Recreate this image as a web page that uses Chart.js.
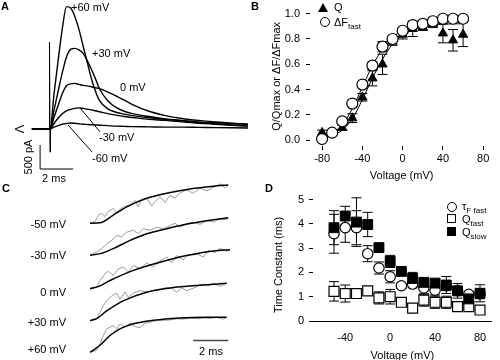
<!DOCTYPE html>
<html>
<head>
<meta charset="utf-8">
<title>Gating charge and fluorescence</title>
<script src="https://cdn.jsdelivr.net/npm/chart.js@4"></script>
<style>
  body { margin:0; width:500px; height:360px; position:relative; overflow:hidden; background:#fff;
         font-family:"Liberation Sans", Arial, sans-serif; font-size:11px; color:#000; }
  canvas { position:absolute; }
  .t { position:absolute; white-space:nowrap; line-height:11px; transform:translateY(-50%); }
  .t.r { transform:translate(-100%,-50%); }
  .t.c { transform:translate(-50%,-50%); }
  .p { font-weight:bold; }
  sub { font-size:8px; vertical-align:-3px; line-height:0; }
  .sym { position:absolute; box-sizing:border-box; }
</style>
</head>
<body>
<canvas id="chartA" width="250" height="180" style="left:0;top:0"></canvas>
<canvas id="chartB" width="250" height="185" style="left:250px;top:0"></canvas>
<canvas id="chartC" width="250" height="180" style="left:0;top:180px"></canvas>
<canvas id="chartD" width="250" height="184" style="left:250px;top:180px"></canvas>

<!-- panel A labels -->
<div class="t p" style="left:1px;top:6px">A</div>
<div class="t" style="left:71px;top:7px">+60 mV</div>
<div class="t" style="left:92px;top:53px">+30 mV</div>
<div class="t" style="left:120px;top:87px">0 mV</div>
<div class="t" style="left:99px;top:137px">-30 mV</div>
<div class="t" style="left:92px;top:158px">-60 mV</div>
<div class="t c" style="left:28px;top:157px;transform:translate(-50%,-50%) rotate(-90deg)">500 pA</div>
<div class="t c" style="left:54px;top:178px">2 ms</div>
<div class="t c" style="left:19px;top:129px;font-size:13px;transform:translate(-50%,-50%) rotate(90deg)">V</div>

<!-- panel B labels -->
<div class="t p" style="left:251px;top:6px">B</div>
<div class="sym" style="left:318px;top:3px;width:0;height:0;border-left:5px solid transparent;border-right:5px solid transparent;border-bottom:9px solid #000"></div>
<div class="t" style="left:334px;top:7px">Q</div>
<div class="sym" style="left:320px;top:17px;width:10px;height:10px;border:1.2px solid #000;border-radius:50%"></div>
<div class="t" style="left:334px;top:22px">&Delta;F<sub>fast</sub></div>

<!-- panel C labels -->
<div class="t p" style="left:2px;top:188px">C</div>
<div class="t r" style="left:66px;top:224px">-50 mV</div>
<div class="t r" style="left:66px;top:255px">-30 mV</div>
<div class="t r" style="left:66px;top:292px">0 mV</div>
<div class="t r" style="left:66px;top:322px">+30 mV</div>
<div class="t r" style="left:66px;top:349px">+60 mV</div>
<div class="t c" style="left:211px;top:351px">2 ms</div>

<!-- panel D labels -->
<div class="t p" style="left:265px;top:188px">D</div>
<div class="t c" style="left:278px;top:265px;transform:translate(-50%,-50%) rotate(-90deg)">Time Constant (ms)</div>
<div class="sym" style="left:447px;top:202px;width:10px;height:10px;border:1.2px solid #000;border-radius:50%"></div>
<div class="t" style="left:462px;top:206px">&tau;<sub>F fast</sub></div>
<div class="sym" style="left:447px;top:214px;width:9px;height:9px;border:1.2px solid #000"></div>
<div class="t" style="left:462px;top:219px">Q<sub>fast</sub></div>
<div class="sym" style="left:447px;top:227px;width:9px;height:9px;background:#000"></div>
<div class="t" style="left:462px;top:232px">Q<sub>slow</sub></div>

<script>
// ---- Panel A: charge movement currents (time in ms, current in pA)
const timeA = [-1.1, -0.6, -0.2, 0, 0.25, 0.5, 0.75, 1, 1.25, 1.5, 1.75, 2, 2.25, 2.5, 2.75, 3, 3.5, 4, 4.5, 5, 6, 7, 8, 9, 10, 11, 12];
const iP60 = [0, 0, 0, 0, 750, 1450, 2100, 2550, 2520, 2350, 2080, 1740, 1400, 1060, 790, 590, 420, 350, 310, 280, 235, 200, 170, 130, 110, 85, 60];
const iP30 = [0, 0, 0, 0, 400, 800, 1180, 1500, 1660, 1680, 1650, 1580, 1430, 1250, 1050, 840, 590, 450, 370, 320, 260, 210, 180, 150, 130, 115, 100];
const i0 = [0, 0, 0, 0, 250, 500, 740, 900, 940, 950, 930, 910, 900, 880, 860, 840, 770, 690, 600, 510, 370, 280, 220, 180, 150, 120, 95];
const iM30 = [0, 0, 0, 0, 120, 230, 320, 380, 410, 430, 440, 430, 415, 400, 380, 360, 320, 290, 260, 240, 200, 180, 150, 120, 100, 80, 60];
const iM60 = [0, 0, 0, 0, 40, 70, 100, 115, 125, 120, 110, 100, 95, 90, 85, 80, 70, 60, 55, 50, 45, 40, 40, 35, 30, 25, 20];
const artifactT = [-0.06, -0.03, 0, 0.03];
const artifactI = [0, 1810, -480, 0];

// ---- Panel B: normalized charge and fluorescence vs voltage
const voltsB = [-80, -70, -60, -50, -40, -30, -20, -10, 0, 10, 20, 30, 40, 50, 60];
const dFfast = [0.01, 0.06, 0.15, 0.29, 0.44, 0.59, 0.74, 0.80, 0.865, 0.91, 0.92, 0.94, 0.96, 0.96, 0.96];
const dFfastErr = [0.01, 0.01, 0.02, 0.02, 0.02, 0.03, 0.04, 0.02, 0.02, 0.02, 0.02, 0.03, 0.02, 0.02, 0.02];
const voltsQ = [-80, -60, -50, -40, -30, -20, -10, 0, 10, 20, 30, 40, 50, 60];
const qNorm = [0.06, 0.10, 0.175, 0.34, 0.49, 0.60, 0.78, 0.835, 0.88, 0.89, 0.92, 0.845, 0.79, 0.835];
const qNormErr = [0.02, 0.02, 0.035, 0.03, 0.06, 0.08, 0.03, 0.035, 0.06, 0.02, 0.03, 0.075, 0.085, 0.095];
const fitDF = [0.02, 0.05, 0.12, 0.25, 0.42, 0.59, 0.72, 0.81, 0.87, 0.90, 0.92, 0.93, 0.935, 0.94, 0.94];
const fitQ = [0.02, 0.04, 0.08, 0.17, 0.32, 0.49, 0.64, 0.76, 0.83, 0.87, 0.895, 0.91, 0.915, 0.92, 0.92];

// ---- Panel C: fluorescence traces [ms, normalized] with fits
const grayM50 = [[0,0.02],[0.29,0.06],[0.48,0.23],[0.67,0.27],[0.86,0.19],[1.05,0.32],[1.33,0.40],[1.52,0.30],[1.9,0.44],[2.29,0.49],[2.57,0.60],[2.76,0.44],[2.95,0.63],[3.24,0.66],[3.52,0.46],[3.71,0.57],[4.0,0.70],[4.29,0.55],[4.57,0.74],[4.86,0.66],[5.14,0.80],[5.52,0.87],[5.9,0.79],[6.29,0.92],[6.67,0.85],[7.05,0.94],[7.43,1.03],[7.71,0.92],[7.9,1.0]];
const fitM50 = [[0,0.02],[0.57,0.03],[1.33,0.23],[2.1,0.44],[3.24,0.66],[4.38,0.79],[5.71,0.90],[7.05,0.97],[7.9,1.0]];
const grayM30 = [[0,0.03],[0.38,0.11],[0.67,0.20],[0.95,0.32],[1.24,0.41],[1.52,0.54],[1.81,0.50],[2.1,0.62],[2.48,0.67],[2.76,0.58],[3.05,0.71],[3.43,0.67],[3.81,0.75],[4.19,0.71],[4.57,0.79],[4.86,0.85],[5.14,0.75],[5.52,0.84],[5.9,0.88],[6.29,0.82],[6.67,0.92],[7.05,0.88],[7.43,0.97],[7.81,0.94],[7.9,0.99]];
const fitM30 = [[0,0.03],[0.6,0.07],[1.33,0.20],[2.29,0.41],[3.24,0.58],[4.38,0.71],[5.71,0.84],[7.05,0.94],[7.9,0.99]];
const gray0 = [[0,0],[0.38,0.04],[0.57,0.21],[0.86,0.38],[1.05,0.45],[1.33,0.34],[1.62,0.51],[1.9,0.56],[2.19,0.43],[2.48,0.60],[2.86,0.51],[3.24,0.66],[3.62,0.56],[4.0,0.71],[4.38,0.81],[4.67,0.66],[4.95,0.85],[5.33,0.74],[5.62,0.87],[6.1,0.90],[6.48,0.81],[6.76,0.98],[7.14,0.93],[7.43,1.03],[7.81,0.97],[8.0,0.98]];
const fit0 = [[0,0],[0.5,0.06],[1.14,0.21],[2.48,0.47],[4.0,0.68],[5.52,0.85],[7.05,0.97],[8.0,1.0]];
const grayP30 = [[0,0.01],[0.38,0.05],[0.57,0.22],[0.76,0.39],[0.95,0.52],[1.24,0.65],[1.52,0.72],[1.71,0.56],[2.0,0.75],[2.19,0.61],[2.48,0.72],[2.86,0.78],[3.24,0.75],[3.62,0.80],[4.0,0.82],[4.38,0.86],[4.67,0.84],[4.95,0.74],[5.24,0.85],[5.52,0.78],[5.9,0.84],[6.19,0.91],[6.48,0.95],[6.76,0.91],[7.05,0.97],[7.43,0.89],[7.81,0.97]];
const fitP30 = [[0,0.01],[0.4,0.07],[0.95,0.26],[1.9,0.52],[3.24,0.74],[4.76,0.86],[6.29,0.92],[7.81,0.97]];
const grayP60 = [[0,0.03],[0.38,0.08],[0.57,0.25],[0.76,0.46],[0.95,0.63],[1.14,0.67],[1.33,0.72],[1.52,0.63],[1.71,0.76],[2.0,0.67],[2.29,0.78],[2.57,0.69],[2.86,0.66],[3.14,0.78],[3.43,0.80],[3.81,0.85],[4.19,0.85],[4.57,0.86],[4.95,0.89],[5.33,0.88],[5.71,0.91],[6.1,0.89],[6.48,0.91],[6.86,0.90],[7.24,0.93],[7.62,0.88],[7.81,0.93]];
const fitP60 = [[0,0.03],[0.57,0.21],[1.14,0.46],[1.71,0.63],[2.48,0.76],[3.62,0.85],[5.14,0.91],[6.67,0.93],[7.81,0.93]];

// ---- Panel D: time constants vs voltage
const voltsD = [-50, -40, -30, -20, -10, 0, 10, 20, 30, 40, 50, 60, 70, 80];
const tauFfast = [3.59, 3.84, 3.84, 2.77, 2.18, 1.82, 1.45, 1.52, 1.36, 1.27, 1.45, 1.25, 1.10, 1.12];
const tauFfastErr = [0.8, 0.6, 0.7, 0.33, 0.25, 0.25, 0.1, 0.15, 0.25, 0.2, 0.2, 0.15, 0.1, 0.2];
const qFast = [1.22, 1.13, 1.13, 1.24, 0.95, 1.0, 0.77, 0.53, 0.86, 0.77, 0.77, 0.59, 0.59, 0.45];
const qFastErr = [0.4, 0.35, 0.2, 0.1, 0.25, 0.3, 0.05, 0.05, 0.25, 0.25, 0.25, 0.1, 0.1, 0.1];
const qSlow = [3.84, 4.32, 4.07, 3.97, 3.02, 2.45, 2.04, 1.75, 1.59, 1.56, 1.48, 1.24, 0.91, 1.14];
const qSlowErr = [0.7, 0.4, 1.0, 0.5, 0.08, 0.25, 0.05, 0.25, 0.15, 0.15, 0.35, 0.3, 0.1, 0.35];

Chart.defaults.font.family = '"Liberation Sans", Arial, sans-serif';
Chart.defaults.font.size = 11;
Chart.defaults.color = '#000';
Chart.defaults.animation = false;
Chart.defaults.plugins.legend.display = false;
Chart.defaults.plugins.tooltip.enabled = false;

const pts = (xs, ys) => xs.map((x, i) => ({ x: x, y: ys[i] }));

// keep axis boxes a fixed size so plot areas line up with the figure
function fixAxis(size) {
    return scale => {
        if (scale.isHorizontal()) scale.height = size; else scale.width = size;
        scale.paddingTop = scale.paddingBottom = scale.paddingLeft = scale.paddingRight = 0;
    };
}
function fixTicks(values) {
    return scale => { scale.ticks = values.map(v => ({ value: v })); };
}

// vertical error bars with caps, from dataset.errorBars
const errorBarPlugin = {
    id: 'errorBars',
    beforeDatasetsDraw(chart) {
        const ctx = chart.ctx;
        chart.data.datasets.forEach((ds, i) => {
            if (!ds.errorBars) return;
            const meta = chart.getDatasetMeta(i);
            const yScale = chart.scales[meta.yAxisID];
            ctx.save();
            ctx.strokeStyle = '#000';
            ctx.lineWidth = 1;
            meta.data.forEach((pt, j) => {
                const err = ds.errorBars[j];
                if (!err) return;
                const v = ds.data[j].y;
                const yTop = yScale.getPixelForValue(v + err);
                const yBot = yScale.getPixelForValue(v - err);
                ctx.beginPath();
                ctx.moveTo(pt.x, yTop); ctx.lineTo(pt.x, yBot);
                ctx.moveTo(pt.x - 5, yTop); ctx.lineTo(pt.x + 5, yTop);
                ctx.moveTo(pt.x - 5, yBot); ctx.lineTo(pt.x + 5, yBot);
                ctx.stroke();
            });
            ctx.restore();
        });
    }
};

// straight segments given in data units (scale bars, leader lines)
function makeBars(segments, color, width) {
    return {
        id: 'bars',
        afterDatasetsDraw(chart) {
            const { ctx, scales: { x, y } } = chart;
            ctx.save();
            ctx.strokeStyle = color;
            ctx.lineWidth = width;
            segments.forEach(seg => {
                ctx.beginPath();
                seg.forEach(([a, b], k) => {
                    const px = x.getPixelForValue(a), py = y.getPixelForValue(b);
                    if (k === 0) ctx.moveTo(px, py); else ctx.lineTo(px, py);
                });
                ctx.stroke();
            });
            ctx.restore();
        }
    };
}

const axisStyle = (tickLen) => ({
    drawOnChartArea: false,
    drawTicks: tickLen > 0,
    tickLength: tickLen,
    color: '#000',
    tickColor: '#000'
});

// Panel A
const traceA = arr => ({ data: pts(timeA, arr), borderColor: '#000', borderWidth: 1.4, pointRadius: 0, cubicInterpolationMode: 'monotone' });
new Chart(document.getElementById('chartA'), {
    type: 'line',
    data: {
        datasets: [
            traceA(iP60), traceA(iP30), traceA(i0), traceA(iM30), traceA(iM60),
            { data: pts(artifactT, artifactI), borderColor: '#000', borderWidth: 1, pointRadius: 0 }
        ]
    },
    options: {
        responsive: false,
        layout: { padding: 0 },
        scales: {
            x: { type: 'linear', min: -3.03, max: 12.12, display: false },
            y: { min: -1062, max: 2688, display: false }
        }
    },
    plugins: [makeBars([
        [[-0.6, -333], [-0.6, -833], [1.4, -833]],
        [[1.82, 440], [3.03, -60]],
        [[1.09, 85], [2.55, -480]]
    ], '#000', 1)]
});

// Panel B
new Chart(document.getElementById('chartB'), {
    type: 'scatter',
    data: {
        datasets: [
            { data: pts(voltsB, dFfast), errorBars: dFfastErr, pointStyle: 'circle', pointRadius: 5.5,
              backgroundColor: '#fff', borderColor: '#000', borderWidth: 1.2, order: 1 },
            { data: pts(voltsQ, qNorm), errorBars: qNormErr, pointStyle: 'triangle', pointRadius: 5.3,
              backgroundColor: '#000', borderColor: '#000', borderWidth: 1, order: 2 },
            { type: 'line', data: pts(voltsB, fitDF), borderColor: '#000', borderWidth: 1, pointRadius: 0,
              cubicInterpolationMode: 'monotone', order: 3 },
            { type: 'line', data: pts(voltsB, fitQ), borderColor: '#000', borderWidth: 1, pointRadius: 0,
              cubicInterpolationMode: 'monotone', order: 4 }
        ]
    },
    options: {
        responsive: false,
        layout: { padding: 0 },
        scales: {
            x: {
                type: 'linear', min: -92, max: 90,
                afterFit: fixAxis(39), afterBuildTicks: fixTicks([-80, -40, 0, 40, 80]),
                grid: axisStyle(4), border: { display: false },
                ticks: { padding: 2 },
                title: { display: true, text: 'Voltage (mV)', padding: { top: 0, bottom: 2 } }
            },
            y: {
                min: -0.045, max: 1.055,
                afterFit: fixAxis(60), afterBuildTicks: fixTicks([0, 0.2, 0.4, 0.6, 0.8, 1.0]),
                grid: axisStyle(4), border: { display: false },
                ticks: { padding: 6, callback: v => Number(v).toFixed(1) },
                title: { display: true, text: 'Q/Qmax or \u0394F/\u0394Fmax', padding: { top: 20, bottom: 0 } }
            }
        }
    },
    plugins: [errorBarPlugin]
});

// Panel C
const cTraces = [[grayM50, fitM50], [grayM30, fitM30], [gray0, fit0], [grayP30, fitP30], [grayP60, fitP60]];
const cSpacing = 0.83;
const cSets = [];
cTraces.forEach(([gray, fit], i) => {
    const off = -i * cSpacing;
    cSets.push({ data: gray.map(([t, v]) => ({ x: t, y: v + off })), borderColor: '#9a9a9a', borderWidth: 1,
                 pointRadius: 0, order: 2 });
    cSets.push({ data: fit.map(([t, v]) => ({ x: t, y: v + off })), borderColor: '#000', borderWidth: 1.5,
                 pointRadius: 0, cubicInterpolationMode: 'monotone', order: 1 });
});
new Chart(document.getElementById('chartC'), {
    type: 'line',
    data: { datasets: cSets },
    options: {
        responsive: false,
        layout: { padding: { left: 90, right: 20, top: 0, bottom: 0 } },
        scales: {
            x: { type: 'linear', min: 0, max: 8, display: false },
            y: { min: -3.487, max: 1.128, display: false }
        }
    },
    plugins: [makeBars([[[5.9, -2.99], [7.9, -2.99]]], '#444', 1.5)]
});

// Panel D
new Chart(document.getElementById('chartD'), {
    type: 'scatter',
    data: {
        datasets: [
            { data: pts(voltsD, qSlow), errorBars: qSlowErr, pointStyle: 'rect', pointRadius: 7,
              backgroundColor: '#000', borderColor: '#000', borderWidth: 1, order: 1 },
            { data: pts(voltsD, tauFfast), errorBars: tauFfastErr, pointStyle: 'circle', pointRadius: 5.2,
              backgroundColor: '#fff', borderColor: '#000', borderWidth: 1.2, order: 2 },
            { data: pts(voltsD, qFast), errorBars: qFastErr, pointStyle: 'rect', pointRadius: 7,
              backgroundColor: '#fff', borderColor: '#000', borderWidth: 1.2, order: 3 }
        ]
    },
    options: {
        responsive: false,
        layout: { padding: { top: 10, left: 0, right: 0, bottom: 0 } },
        scales: {
            x: {
                type: 'linear', min: -68.7, max: 90.5,
                afterFit: fixAxis(43), afterBuildTicks: fixTicks([-40, 0, 40, 80]),
                grid: axisStyle(0), border: { display: true, color: '#000', width: 1 },
                ticks: { padding: 10 },
                title: { display: true, text: 'Voltage (mV)', padding: { top: 0, bottom: 1 } }
            },
            y: {
                min: 0, max: 5.39,
                afterFit: fixAxis(63), afterBuildTicks: fixTicks([0, 1, 2, 3, 4, 5]),
                grid: axisStyle(4), border: { display: false },
                ticks: { padding: 5 }
            }
        }
    },
    plugins: [errorBarPlugin]
});
</script>
</body>
</html>
